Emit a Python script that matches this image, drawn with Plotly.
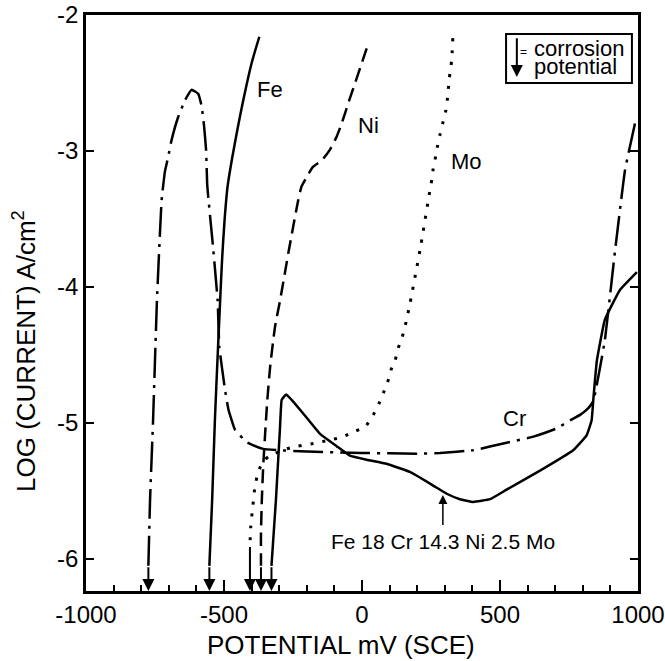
import plotly.graph_objects as go

# ---- data (potential mV vs log current density) ----
fe_x = [-372, -400, -430, -454, -472, -487, -498, -507, -514, -522, -533, -543, -553]
fe_y = [-2.16, -2.355, -2.625, -2.87, -3.07, -3.26, -3.51, -3.80, -4.10, -4.46, -4.98, -5.57, -6.05]

cr_x = [-774, -768, -757, -743, -726, -714, -702, -690, -666, -641, -617, -593, -581, -572,
        -565, -561, -557, -540, -523, -517, -496, -484, -460, -418, -358, -300, -200, 0, 200,
        283, 403, 524, 621, 705, 754, 790, 820, 838, 880, 917, 953, 993]
cr_y = [-6.05, -5.57, -4.98, -4.10, -3.36, -3.15, -3.04, -2.92, -2.75, -2.625, -2.55, -2.58,
        -2.67, -2.82, -2.99, -3.24, -3.34, -3.70, -4.10, -4.44, -4.76, -4.90, -5.05, -5.14,
        -5.19, -5.20, -5.21, -5.22, -5.225, -5.22, -5.20, -5.145, -5.10, -5.04, -4.98, -4.94,
        -4.89, -4.84, -4.39, -3.73, -3.14, -2.76]

ni_x = [17, -1, -25, -50, -74, -92, -116, -146, -177, -200, -219, -231, -265, -297, -315,
        -333, -343, -351, -358, -363, -366, -366]
ni_y = [-2.245, -2.355, -2.50, -2.65, -2.80, -2.895, -2.99, -3.07, -3.115, -3.19, -3.26,
        -3.36, -3.73, -4.10, -4.29, -4.59, -4.83, -5.08, -5.32, -5.57, -5.81, -6.05]

mo_x = [329, 325, 316, 309, 303, 292, 283, 274, 267, 258, 253, 246, 210, 174, 156, 144, 131,
        120, 105, 93, 77, 62, 41, 11, -25, -68, -116, -176, -231, -273, -333, -358, -376,
        -388, -396, -403, -406]
mo_y = [-2.17, -2.33, -2.47, -2.625, -2.71, -2.80, -2.875, -2.96, -3.04, -3.13, -3.21, -3.29,
        -3.73, -4.12, -4.29, -4.38, -4.45, -4.54, -4.61, -4.70, -4.78, -4.855, -4.94, -5.03,
        -5.06, -5.10, -5.125, -5.15, -5.17, -5.19, -5.24, -5.28, -5.36, -5.47, -5.62, -5.76,
        -5.90]

alloy_x = [-328, -312, -297, -291, -275, -255, -213, -152, -92, -44, 17, 89, 174, 258, 307,
           355, 403, 464, 524, 645, 765, 814, 832, 838, 851, 880, 935, 996]
alloy_y = [-6.05, -5.57, -5.03, -4.83, -4.79, -4.83, -4.93, -5.08, -5.17, -5.24, -5.27, -5.30,
           -5.36, -5.46, -5.52, -5.56, -5.58, -5.56, -5.49, -5.35, -5.20, -5.09, -4.98, -4.83,
           -4.54, -4.24, -4.02, -3.89]

# corrosion potentials (arrows)
corr_pot = [-774, -553, -406, -366, -328]
corr_start = [-6.05, -6.05, -5.90, -6.05, -6.05]

x_tick_vals = [-1000, -500, 0, 500, 1000]
x_tick_text = ["-1000", "-500", "0", "500", "1000"]
y_tick_vals = [-6, -5, -4, -3, -2]
y_tick_text = ["-6", "-5", "-4", "-3", "-2"]

curve_labels = ["Fe", "Ni", "Mo", "Cr"]
label_x = [-333, 25, 377, 551]
label_y = [-2.55, -2.81, -3.08, -4.97]

alloy_label = "Fe 18 Cr 14.3 Ni 2.5 Mo"
alloy_label_pos = (293, -5.87)
alloy_arrow = (293, -5.53, -5.76)

X_RANGE = [-1000, 1000]
Y_RANGE = [-6.235, -2]

FONT = "Liberation Sans"

fig = go.Figure()


def add_line(x, y, dash, smoothing=0.5, width=2.5):
    fig.add_trace(go.Scatter(
        x=x, y=y, mode="lines",
        line=dict(color="black", width=width, dash=dash, shape="spline", smoothing=smoothing),
        hoverinfo="skip", showlegend=False))


add_line(cr_x, cr_y, "30px,7px,3px,7px", smoothing=0.3)
add_line(fe_x, fe_y, "solid", smoothing=0.7)
add_line(ni_x, ni_y, "14px,7px")
add_line(mo_x, mo_y, "3px,9px", width=3)
add_line(alloy_x, alloy_y, "solid", smoothing=0.3)

ann = []
for xv, ys in zip(corr_pot, corr_start):
    ann.append(dict(x=xv, y=Y_RANGE[0], ax=xv, ay=ys, xref="x", yref="y",
                    axref="x", ayref="y", text="", showarrow=True,
                    arrowhead=2, arrowsize=1.2, arrowwidth=2, arrowcolor="black"))

for t, xv, yv in zip(curve_labels, label_x, label_y):
    ann.append(dict(x=xv, y=yv, xref="x", yref="y", text=t, showarrow=False,
                    font=dict(family=FONT, size=22, color="black")))

ann.append(dict(x=alloy_label_pos[0], y=alloy_label_pos[1], xref="x", yref="y",
                text=alloy_label, showarrow=False,
                font=dict(family=FONT, size=21, color="black")))
ann.append(dict(x=alloy_arrow[0], y=alloy_arrow[1], ax=alloy_arrow[0], ay=alloy_arrow[2],
                xref="x", yref="y", axref="x", ayref="y", text="", showarrow=True,
                arrowhead=2, arrowsize=1.2, arrowwidth=1.5, arrowcolor="black"))

# legend box "corrosion potential"
ann.append(dict(x=561, y=-2.456, ax=561, ay=-2.16, xref="x", yref="y", axref="x",
                ayref="y", text="", showarrow=True, arrowhead=2, arrowsize=1.2,
                arrowwidth=2, arrowcolor="black"))
ann.append(dict(x=585, y=-2.27, xref="x", yref="y", text="=", showarrow=False,
                font=dict(family=FONT, size=12, color="black")))
ann.append(dict(x=615, y=-2.243, xref="x", yref="y", text="corrosion", showarrow=False,
                xanchor="left", font=dict(family=FONT, size=22, color="black")))
ann.append(dict(x=615, y=-2.375, xref="x", yref="y", text="potential", showarrow=False,
                xanchor="left", font=dict(family=FONT, size=22, color="black")))

# axis titles
ann.append(dict(x=0.462, y=-0.093, xref="paper", yref="paper", text="POTENTIAL mV (SCE)",
                showarrow=False, xanchor="center", yanchor="middle",
                font=dict(family=FONT, size=26, color="black")))
ann.append(dict(x=-0.1105, y=0.4167, xref="paper", yref="paper",
                text="LOG (CURRENT) A/cm<sup>2</sup>", textangle=-90,
                showarrow=False, xanchor="center", yanchor="middle",
                font=dict(family=FONT, size=26, color="black")))

fig.update_layout(
    width=665, height=661,
    margin=dict(l=86, r=27, t=15, b=70, autoexpand=False),
    plot_bgcolor="white", paper_bgcolor="white",
    showlegend=False,
    font=dict(family=FONT, color="black"),
    annotations=ann,
    shapes=[dict(type="rect", xref="x", yref="y", x0=522, x1=978, y0=-2.50, y1=-2.14,
                 line=dict(color="black", width=2))],
    xaxis=dict(range=X_RANGE, tickmode="array", tickvals=x_tick_vals, ticktext=x_tick_text,
               ticks="inside", ticklen=11, tickwidth=2, tickcolor="black",
               showline=True, linewidth=2.5, linecolor="black", mirror=True,
               showgrid=False, zeroline=False, automargin=False,
               tickfont=dict(family=FONT, size=24, color="black"),
               minor=dict(tick0=-1000, dtick=100, ticks="inside", ticklen=6,
                          tickwidth=1.5, tickcolor="black", showgrid=False)),
    yaxis=dict(range=Y_RANGE, tickmode="array", tickvals=y_tick_vals, ticktext=y_tick_text,
               ticks="inside", ticklen=8, tickwidth=2, tickcolor="black",
               showline=True, linewidth=2.5, linecolor="black", mirror="ticks",
               showgrid=False, zeroline=False, automargin=False,
               tickfont=dict(family=FONT, size=24, color="black")),
)

fig.write_html("out.html")
